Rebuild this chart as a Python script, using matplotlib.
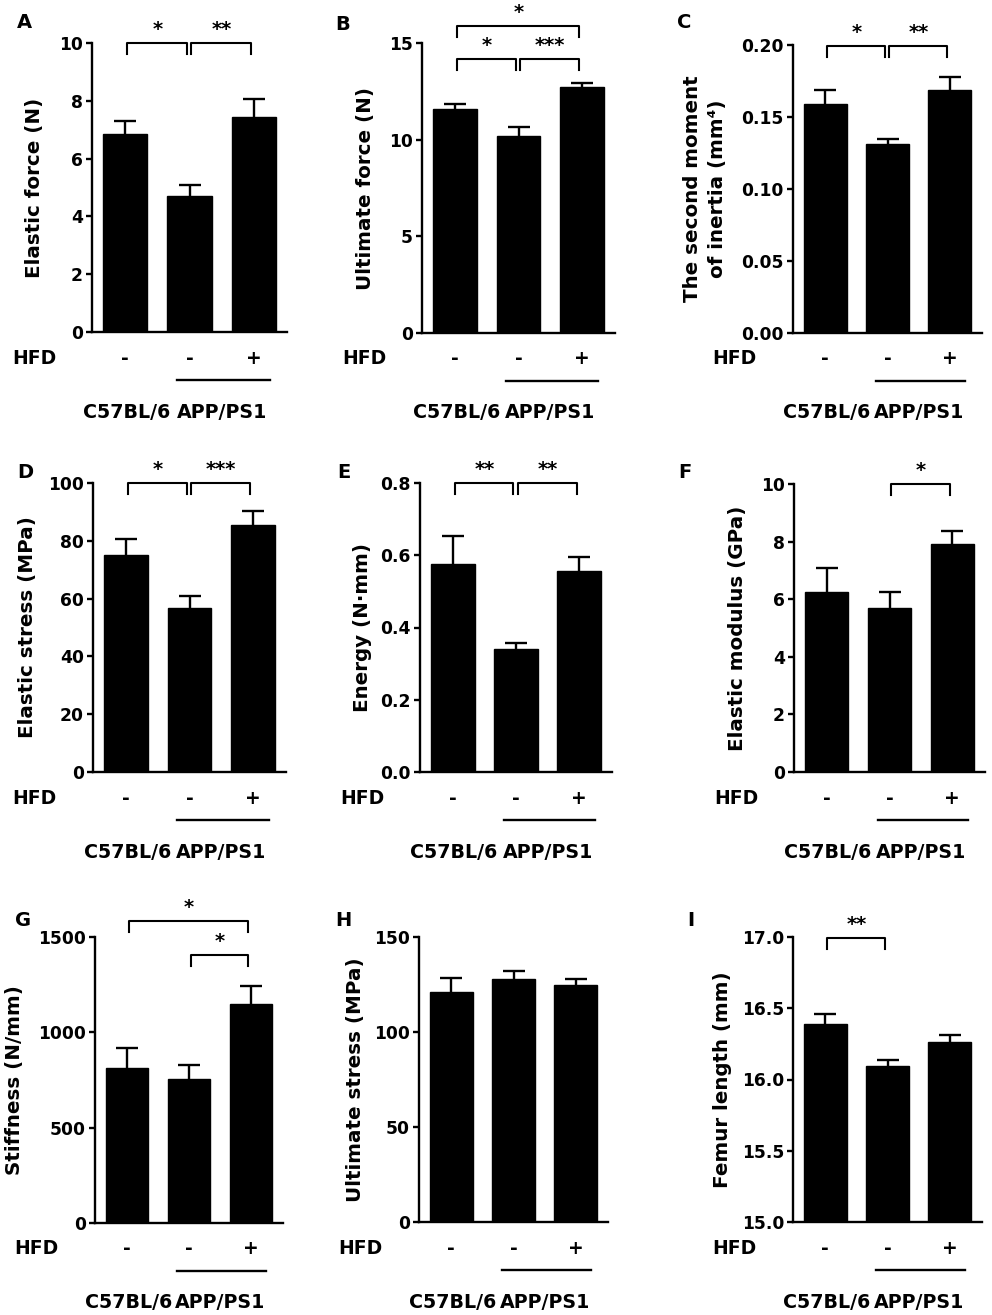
import matplotlib
matplotlib.use("Agg")
import matplotlib.pyplot as plt
import numpy as np

plt.rcParams['font.family'] = ['DejaVu Sans']
plt.rcParams['font.weight'] = 'bold'

# ---- data (mean, upper SEM) ----
hfd_signs = ["-", "-", "+"]
groups = ["C57BL/6", "APP/PS1"]

elastic_force = [6.85, 4.70, 7.45]
elastic_force_sem = [0.45, 0.40, 0.62]

ultimate_force = [11.6, 10.2, 12.75]
ultimate_force_sem = [0.22, 0.43, 0.17]

inertia = [0.159, 0.131, 0.169]
inertia_sem = [0.010, 0.004, 0.0085]

elastic_stress = [75.1, 56.7, 85.5]
elastic_stress_sem = [5.4, 4.2, 4.9]

energy = [0.576, 0.341, 0.557]
energy_sem = [0.078, 0.017, 0.038]

elastic_modulus = [6.25, 5.69, 7.93]
elastic_modulus_sem = [0.82, 0.55, 0.43]

stiffness = [813, 753, 1149]
stiffness_sem = [107, 76, 95]

ultimate_stress = [121.3, 127.8, 124.7]
ultimate_stress_sem = [7.2, 4.4, 3.3]

femur_length = [16.386, 16.094, 16.263]
femur_length_sem = [0.077, 0.043, 0.049]

ylabels = ["Elastic force (N)", "Ultimate force (N)",
           "The second moment\nof inertia (mm\u2074)",
           "Elastic stress (MPa)", "Energy (N\u00b7mm)", "Elastic modulus (GPa)",
           "Stiffness (N/mm)", "Ultimate stress (MPa)", "Femur length (mm)"]
letters = list("ABCDEFGHI")

# (i, j, label, level) level in axes fraction
signif = [
    [(0, 1, "*", 1.0), (1, 2, "**", 1.0)],
    [(0, 1, "*", 0.944), (1, 2, "***", 0.944), (0, 2, "*", 1.06)],
    [(0, 1, "*", 0.995), (1, 2, "**", 0.995)],
    [(0, 1, "*", 1.0), (1, 2, "***", 1.0)],
    [(0, 1, "**", 1.0), (1, 2, "**", 1.0)],
    [(1, 2, "*", 1.0)],
    [(1, 2, "*", 0.938), (0, 2, "*", 1.057)],
    [],
    [(0, 1, "**", 0.995)],
]

yticks = [np.arange(0, 11, 2), np.arange(0, 16, 5), np.arange(0, 0.21, 0.05),
          np.arange(0, 101, 20), np.arange(0, 0.81, 0.2), np.arange(0, 11, 2),
          np.arange(0, 1501, 500), np.arange(0, 151, 50), np.arange(15, 17.01, 0.5)]
yfmt = ["{:.0f}", "{:.0f}", "{:.2f}", "{:.0f}", "{:.1f}", "{:.0f}", "{:.0f}", "{:.0f}", "{:.1f}"]

means = [elastic_force, ultimate_force, inertia, elastic_stress, energy,
         elastic_modulus, stiffness, ultimate_stress, femur_length]
sems = [elastic_force_sem, ultimate_force_sem, inertia_sem, elastic_stress_sem, energy_sem,
        elastic_modulus_sem, stiffness_sem, ultimate_stress_sem, femur_length_sem]

# axes boxes in pixels: left, right, top, bottom
W, H = 992, 1315
boxes = [(92, 287, 43, 332), (422, 615, 43, 333), (793, 982, 45, 333),
         (93, 286, 483, 772), (420, 612, 483, 772), (794, 985, 484, 772),
         (95, 283, 937, 1223), (419, 608, 937, 1222), (793, 982, 937, 1222)]
label_dist = [57, 57, 88, 65, 58, 56, 80, 64, 71]
letter_pos = [(17, 23), (335, 24), (677, 23), (17, 473), (337, 473), (678, 473),
              (15, 920), (335, 920), (687, 920)]

fig = plt.figure(figsize=(W / 100, H / 100), dpi=100)
x = np.arange(3)

for k in range(9):
    l, r, t, b = boxes[k]
    wpx, hpx = r - l, b - t
    ax = fig.add_axes([l / W, 1 - b / H, wpx / W, hpx / H])
    ax.bar(x, means[k], width=0.69, color="black", edgecolor="black", zorder=2)
    eb = ax.errorbar(x, means[k], yerr=[np.zeros(3), sems[k]], fmt="none", ecolor="black",
                     elinewidth=1.7, capsize=8, capthick=1.7, zorder=1)
    # hide the lower cap sitting on the bar top
    for cap in eb[1]:
        if np.allclose(cap.get_ydata(), means[k]):
            cap.set_visible(False)
    ax.set_xlim(-0.52, 2.52)
    yt = yticks[k]
    ax.set_ylim(yt[0], yt[-1])
    ax.set_yticks(yt, [yfmt[k].format(v) for v in yt])
    ax.set_xticks([])
    for s in ("top", "right"):
        ax.spines[s].set_visible(False)
    for s in ("left", "bottom"):
        ax.spines[s].set_linewidth(1.7)
    ax.tick_params(axis="y", length=4.5, width=1.7, pad=2, labelsize=12.3)
    ax.set_ylabel(ylabels[k], fontsize=14.3, fontweight="bold", va="center",
                  linespacing=1.45)
    ax.yaxis.set_label_coords(-label_dist[k] / wpx, 0.5)

    tr = ax.get_xaxis_transform()
    # significance brackets
    tick = 11 / hpx
    for i, j, lab, lev in signif[k]:
        x0, x1 = i + 0.03, j - 0.04
        ax.plot([x0, x0, x1, x1], [lev - tick, lev, lev, lev - tick], color="black",
                lw=1.5, transform=tr, clip_on=False)
        ax.text((i + j) / 2, lev + 8 / hpx, lab, transform=tr, ha="center",
                va="baseline", fontsize=14, fontweight="bold")

    # HFD row and genotype labels
    ax.text(-(36) / wpx, -26 / hpx, "HFD", transform=ax.transAxes, ha="right",
            va="center", fontsize=13.5, fontweight="bold")
    for xi, sgn in zip(x, hfd_signs):
        ax.text(xi, -26 / hpx, sgn, transform=tr, ha="center", va="center",
                fontsize=13.5, fontweight="bold")
    ax.plot([0.81, 2.25], [-48 / hpx, -48 / hpx], color="black", lw=1.7,
            transform=tr, clip_on=False)
    ax.text(0.02, -80 / hpx, groups[0], transform=tr, ha="center", va="center",
            fontsize=13.7, fontweight="bold")
    ax.text(1.5, -80 / hpx, groups[1], transform=tr, ha="center", va="center",
            fontsize=13.7, fontweight="bold")

    lx, ly = letter_pos[k]
    fig.text(lx / W, 1 - ly / H, letters[k], ha="left", va="center",
             fontsize=14, fontweight="bold")

fig.savefig("out.png", dpi=100)
